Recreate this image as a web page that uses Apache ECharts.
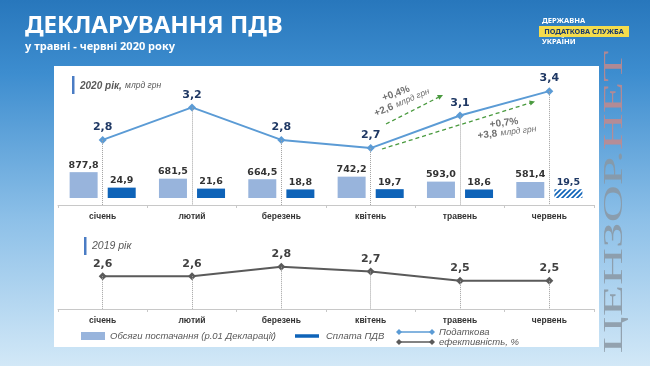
<!DOCTYPE html>
<html>
<head>
<meta charset="utf-8">
<script src="https://cdn.jsdelivr.net/npm/echarts@6/dist/echarts.min.js"></script>
<style>
  html, body { margin: 0; padding: 0; }
  #chart { width: 650px; height: 366px; }
</style>
</head>
<body>
<div id="chart"></div>
<script>
const months = ['січень', 'лютий', 'березень', 'квітень', 'травень', 'червень'];
const supply2020 = [877.8, 681.5, 664.5, 742.2, 593.0, 581.4];
const payment2020 = [24.9, 21.6, 18.8, 19.7, 18.6, 19.5];
const efficiency2020 = [2.8, 3.2, 2.8, 2.7, 3.1, 3.4];
const efficiency2019 = [2.6, 2.6, 2.8, 2.7, 2.5, 2.5];

const supplyColor = '#98b4dc';
const paymentColor = '#0e63b8';
const line2020Color = '#5b9bd5';
const line2019Color = '#5a5a5a';
const numFont = 'DejaVu Sans';
const txtFont = 'Liberation Sans';

const fmt = v => v.toFixed(1).replace('.', ',');

// hatch for the unfinished June payment
function hatch() {
    const c = document.createElement('canvas');
    c.width = 5;
    c.height = 5;
    const g = c.getContext('2d');
    g.fillStyle = '#ffffff';
    g.fillRect(0, 0, 5, 5);
    g.strokeStyle = paymentColor;
    g.lineWidth = 1.6;
    g.beginPath();
    g.moveTo(0, 5); g.lineTo(5, 0);
    g.moveTo(-1, 1); g.lineTo(1, -1);
    g.moveTo(4, 6); g.lineTo(6, 4);
    g.stroke();
    return c;
}

const catAxis = (gridIndex) => ({
    type: 'category',
    gridIndex: gridIndex,
    data: months,
    axisLine: {lineStyle: {color: '#c8c8c8', width: 1}},
    axisTick: {show: true, length: 3, lineStyle: {color: '#c8c8c8'}},
    axisLabel: {color: '#333', fontFamily: txtFont, fontWeight: 'bold', fontSize: 8.5, margin: 7}
});

function dropLines(values, base) {
    return {
        silent: true,
        symbol: 'none',
        label: {show: false},
        lineStyle: {color: '#a0a0a0', type: 'dotted', width: 1},
        data: values.map((v, i) => [{coord: [months[i], v]}, {coord: [months[i], base]}])
    };
}

function arrow(x1, y1, x2, y2) {
    const a = Math.atan2(y2 - y1, x2 - x1);
    const s = 6;
    const p1 = [x2 - s * Math.cos(a - 0.45), y2 - s * Math.sin(a - 0.45)];
    const p2 = [x2 - s * Math.cos(a + 0.45), y2 - s * Math.sin(a + 0.45)];
    return [
        {type: 'line', z: 50, shape: {x1: x1, y1: y1, x2: x2 - 3 * Math.cos(a), y2: y2 - 3 * Math.sin(a)},
            style: {stroke: '#4a9a3f', lineWidth: 1.3, lineDash: [4, 3]}},
        {type: 'polygon', z: 50, shape: {points: [[x2, y2], p1, p2]}, style: {fill: '#4a9a3f'}}
    ];
}

function diamond(cx, cy, color) {
    return {type: 'polygon', z: 50, shape: {points: [[cx - 3, cy], [cx, cy - 3], [cx + 3, cy], [cx, cy + 3]]},
        style: {fill: color}};
}

const chart = echarts.init(document.getElementById('chart'));

const option = {
    animation: false,
    grid: [
        {left: 58, right: 56, top: 85, bottom: 168},
        {left: 58, right: 56, top: 83, bottom: 161},
        {left: 58, right: 56, top: 248, bottom: 57}
    ],
    xAxis: [
        {type: 'category', gridIndex: 0, data: months, show: false},
        catAxis(1),
        catAxis(2)
    ],
    yAxis: [
        {type: 'value', gridIndex: 0, min: 100, max: 3500, startValue: 100, show: false},
        {type: 'value', gridIndex: 0, min: -10, max: 370, startValue: -10, show: false},
        {type: 'value', gridIndex: 1, min: 2.0, max: 3.5, show: false},
        {type: 'value', gridIndex: 2, min: 1.9, max: 3.2, show: false}
    ],
    series: [
        {
            name: 'Обсяги постачання (р.01 Декларації)',
            type: 'bar',
            xAxisIndex: 0,
            yAxisIndex: 0,
            clip: true,
            barWidth: 28,
            barGap: '36%',
            itemStyle: {color: supplyColor},
            label: {show: true, position: 'top', distance: 2, color: '#333',
                fontFamily: numFont, fontWeight: 'bold', fontSize: 9.5, formatter: p => fmt(p.value)},
            data: supply2020
        },
        {
            name: 'Сплата ПДВ',
            type: 'bar',
            xAxisIndex: 0,
            yAxisIndex: 1,
            clip: true,
            barWidth: 28,
            barGap: '36%',
            itemStyle: {color: paymentColor},
            label: {show: true, position: 'top', distance: 2, color: '#333',
                fontFamily: numFont, fontWeight: 'bold', fontSize: 9.5, formatter: p => fmt(p.value)},
            data: payment2020.map((v, i) => i === payment2020.length - 1 ? {
                value: v,
                itemStyle: {color: {image: hatch(), repeat: 'repeat'}},
                label: {color: '#1f3864'}
            } : v)
        },
        {
            name: '2020',
            type: 'line',
            xAxisIndex: 1,
            yAxisIndex: 2,
            symbol: 'diamond',
            symbolSize: 8,
            lineStyle: {color: line2020Color, width: 2},
            itemStyle: {color: line2020Color},
            label: {show: true, position: 'top', distance: 3, color: '#1f3864',
                fontFamily: numFont, fontWeight: 'bold', fontSize: 11, formatter: p => fmt(p.value)},
            markLine: dropLines(efficiency2020, 2.0),
            data: efficiency2020
        },
        {
            name: '2019',
            type: 'line',
            xAxisIndex: 2,
            yAxisIndex: 3,
            symbol: 'diamond',
            symbolSize: 8,
            lineStyle: {color: line2019Color, width: 2},
            itemStyle: {color: line2019Color},
            label: {show: true, position: 'top', distance: 3, color: '#404040',
                fontFamily: numFont, fontWeight: 'bold', fontSize: 11, formatter: p => fmt(p.value)},
            markLine: dropLines(efficiency2019, 1.9),
            data: efficiency2019
        }
    ],
    graphic: [
        {type: 'rect', z: -10, shape: {x: 0, y: 0, width: 650, height: 366},
            style: {fill: new echarts.graphic.LinearGradient(0, 0, 0, 1, [
                {offset: 0, color: '#2877bc'},
                {offset: 0.2, color: '#3d8dcf'},
                {offset: 0.6, color: '#8dc0e8'},
                {offset: 1, color: '#d2e8f7'}
            ])}},
        {type: 'rect', z: -5, shape: {x: 54, y: 66, width: 545, height: 281}, style: {fill: '#ffffff'}},

        // header
        {type: 'text', z: 50, x: 25, y: 14, style: {text: 'ДЕКЛАРУВАННЯ ПДВ', fill: '#fff',
            font: 'bold 24px "Noto Sans"'}},
        {type: 'text', z: 50, x: 25, y: 41, style: {text: 'у травні - червні 2020 року', fill: '#fff',
            font: 'bold 11px "Noto Sans"'}},
        {type: 'text', z: 50, x: 542, y: 21, style: {text: 'ДЕРЖАВНА', fill: '#fff', verticalAlign: 'middle',
            font: 'bold 7.5px "Noto Sans"'}},
        {type: 'rect', z: 50, shape: {x: 539, y: 26, width: 90, height: 11}, style: {fill: '#f4dc4c'}},
        {type: 'text', z: 51, x: 584, y: 31.5, style: {text: 'ПОДАТКОВА СЛУЖБА', fill: '#1b3a6b',
            align: 'center', verticalAlign: 'middle', font: 'bold 7.3px "Noto Sans"'}},
        {type: 'text', z: 50, x: 542, y: 42, style: {text: 'УКРАЇНИ', fill: '#fff', verticalAlign: 'middle',
            font: 'bold 7.5px "Noto Sans"'}},

        // panel titles
        {type: 'rect', z: 50, shape: {x: 72, y: 76, width: 2.5, height: 18}, style: {fill: '#4a7cc4'}},
        {type: 'text', z: 50, x: 80, y: 86, style: {
            text: '{a|2020 рік,} {b|млрд грн}', verticalAlign: 'middle',
            rich: {
                a: {fontFamily: txtFont, fontStyle: 'italic', fontWeight: 'bold', fontSize: 10, fill: '#595959'},
                b: {fontFamily: txtFont, fontStyle: 'italic', fontSize: 8.5, fill: '#595959'}
            }}},
        {type: 'rect', z: 50, shape: {x: 84, y: 237, width: 2.5, height: 18}, style: {fill: '#4a7cc4'}},
        {type: 'text', z: 50, x: 92, y: 246, style: {text: '2019 рік', verticalAlign: 'middle',
            fill: '#595959', font: 'italic 10.5px "Liberation Sans"'}},

        // growth annotations
        ...arrow(386, 124, 443, 95),
        ...arrow(382, 149, 535, 101.5),
        {type: 'text', z: 50, x: 396, y: 93.5, rotation: 0.35, style: {text: '+0,4%', align: 'center',
            verticalAlign: 'middle', fill: '#707070', font: 'bold 10px "Liberation Sans"'}},
        {type: 'text', z: 50, x: 402, y: 102.5, rotation: 0.4, style: {
            text: '{a|+2,6} {b|млрд грн}', align: 'center', verticalAlign: 'middle',
            rich: {
                a: {fontFamily: txtFont, fontWeight: 'bold', fontSize: 10, fill: '#707070'},
                b: {fontFamily: txtFont, fontStyle: 'italic', fontSize: 8.5, fill: '#707070'}
            }}},
        {type: 'text', z: 50, x: 504, y: 123, rotation: 0.12, style: {text: '+0,7%', align: 'center',
            verticalAlign: 'middle', fill: '#707070', font: 'bold 10px "Liberation Sans"'}},
        {type: 'text', z: 50, x: 507, y: 132.5, rotation: 0.12, style: {
            text: '{a|+3,8} {b|млрд грн}', align: 'center', verticalAlign: 'middle',
            rich: {
                a: {fontFamily: txtFont, fontWeight: 'bold', fontSize: 10, fill: '#707070'},
                b: {fontFamily: txtFont, fontStyle: 'italic', fontSize: 8.5, fill: '#707070'}
            }}},

        // legend
        {type: 'rect', z: 50, shape: {x: 81, y: 332, width: 24, height: 8}, style: {fill: supplyColor}},
        {type: 'text', z: 50, x: 110, y: 336, style: {text: 'Обсяги постачання (р.01 Декларації)',
            verticalAlign: 'middle', fill: '#595959', font: 'italic 9.5px "Liberation Sans"'}},
        {type: 'line', z: 50, shape: {x1: 295, y1: 336, x2: 319, y2: 336},
            style: {stroke: paymentColor, lineWidth: 3.5}},
        {type: 'text', z: 50, x: 326, y: 336, style: {text: 'Сплата ПДВ',
            verticalAlign: 'middle', fill: '#595959', font: 'italic 9.5px "Liberation Sans"'}},
        {type: 'line', z: 50, shape: {x1: 399, y1: 332, x2: 432, y2: 332},
            style: {stroke: line2020Color, lineWidth: 1.5}},
        diamond(399, 332, line2020Color),
        diamond(432, 332, line2020Color),
        {type: 'line', z: 50, shape: {x1: 399, y1: 342, x2: 432, y2: 342},
            style: {stroke: line2019Color, lineWidth: 1.5}},
        diamond(399, 342, line2019Color),
        diamond(432, 342, line2019Color),
        {type: 'text', z: 50, x: 439, y: 332, style: {text: 'Податкова',
            verticalAlign: 'middle', fill: '#595959', font: 'italic 9.5px "Liberation Sans"'}},
        {type: 'text', z: 50, x: 439, y: 342, style: {text: 'ефективність, %',
            verticalAlign: 'middle', fill: '#595959', font: 'italic 9.5px "Liberation Sans"'}},

        // watermark
        {type: 'text', z: 60, x: 615, y: 202, rotation: Math.PI / 2, scaleX: 1.9, style: {
            text: '{a|ЦЕНЗОР.}{b|НЕТ}', align: 'center', verticalAlign: 'middle', opacity: 0.85,
            rich: {
                a: {fontFamily: 'Liberation Serif', fontSize: 27, fill: '#8a96a2'},
                b: {fontFamily: 'Liberation Serif', fontSize: 27, fill: '#c4888b'}
            }}}
    ]
};

chart.setOption(option);
</script>
</body>
</html>
